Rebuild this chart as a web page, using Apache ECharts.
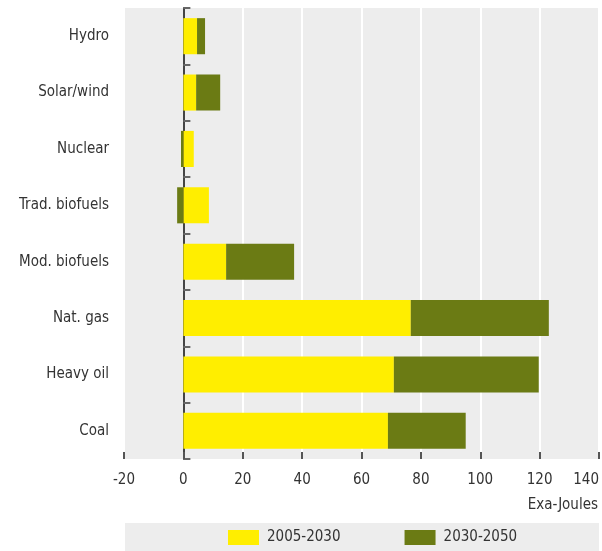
<!DOCTYPE html>
<html>
<head>
<meta charset="utf-8">
<script src="https://cdn.jsdelivr.net/npm/echarts@6/dist/echarts.min.js"></script>
<style>
  html, body { margin: 0; padding: 0; background: #fff; }
  #chart { width: 602px; height: 551px; }
</style>
</head>
<body>
<div id="chart"></div>
<script>
// Energy sources, bottom to top
const categories = ['Coal', 'Heavy oil', 'Nat. gas', 'Mod. biofuels', 'Trad. biofuels', 'Nuclear', 'Solar/wind', 'Hydro'];
// Increase over 2005-2030 (Exa-Joules)
const period1 = [68.9, 70.9, 76.6, 14.4, 8.6, 3.5, 4.3, 4.6];
// Further increase over 2030-2050 (Exa-Joules)
const period2 = [26.2, 48.8, 46.5, 22.9, -2.1, -0.8, 8.1, 2.7];
const seriesNames = ['2005-2030', '2030-2050'];
const xTicks = { min: -20, max: 140, interval: 20 };
const unitLabel = 'Exa-Joules';

const FONT = '"Liberation Sans Narrow", "DejaVu Sans Condensed", "Roboto", sans-serif';
const chart = echarts.init(document.getElementById('chart'), null, { renderer: 'canvas' });

chart.setOption({
  animation: false,
  textStyle: { fontFamily: FONT },
  grid: {
    left: 124, right: 3, top: 8, bottom: 92,
    containLabel: false, outerBoundsMode: 'none',
    show: true, backgroundColor: '#ededed', borderWidth: 0
  },
  graphic: [
    {
      type: 'rect', z: -1,
      shape: { x: 125, y: 523, width: 474, height: 28 },
      style: { fill: '#ededed' }
    },
    {
      type: 'text', right: 4, top: 498,
      style: { text: unitLabel, font: '15px ' + FONT, fill: '#333', textAlign: 'right' }
    }
  ],
  legend: {
    left: 228, top: 530, padding: 0,
    itemWidth: 31, itemHeight: 15, itemGap: 64,
    icon: 'rect',
    textStyle: { fontFamily: FONT, fontSize: 15, color: '#333', padding: [0, 0, 0, 3] },
    data: seriesNames
  },
  xAxis: {
    type: 'value',
    min: xTicks.min, max: xTicks.max, interval: xTicks.interval,
    axisLine: { onZero: false, lineStyle: { color: '#444', width: 2 } },
    axisTick: { show: true, inside: true, length: 7, lineStyle: { color: '#555', width: 2 } },
    axisLabel: { fontFamily: FONT, fontSize: 15, color: '#333', margin: 14, alignMaxLabel: 'right' },
    splitLine: { show: true, lineStyle: { color: '#ffffff', width: 2 } }
  },
  yAxis: [
    {
      type: 'category', data: categories,
      axisLine: { show: false },
      axisTick: { show: false },
      axisLabel: { fontFamily: FONT, fontSize: 15, color: '#333', margin: 15 },
      splitLine: { show: false }
    },
    {
      // zero line with category-boundary ticks pointing into the bars
      type: 'category', data: categories, position: 'right',
      axisLine: { show: true, onZero: true, onZeroAxisIndex: 0, lineStyle: { color: '#444', width: 2 } },
      axisTick: { show: true, inside: false, length: 7, lineStyle: { color: '#666', width: 2 } },
      axisLabel: { show: false },
      splitLine: { show: false }
    }
  ],
  series: [
    {
      name: seriesNames[0], type: 'bar', stack: 'total', yAxisIndex: 0,
      barWidth: '64%', data: period1,
      itemStyle: { color: '#ffee00' }
    },
    {
      name: seriesNames[1], type: 'bar', stack: 'total', yAxisIndex: 0,
      barWidth: '64%', data: period2,
      itemStyle: { color: '#6b7b14' }
    }
  ]
});
</script>
</body>
</html>
